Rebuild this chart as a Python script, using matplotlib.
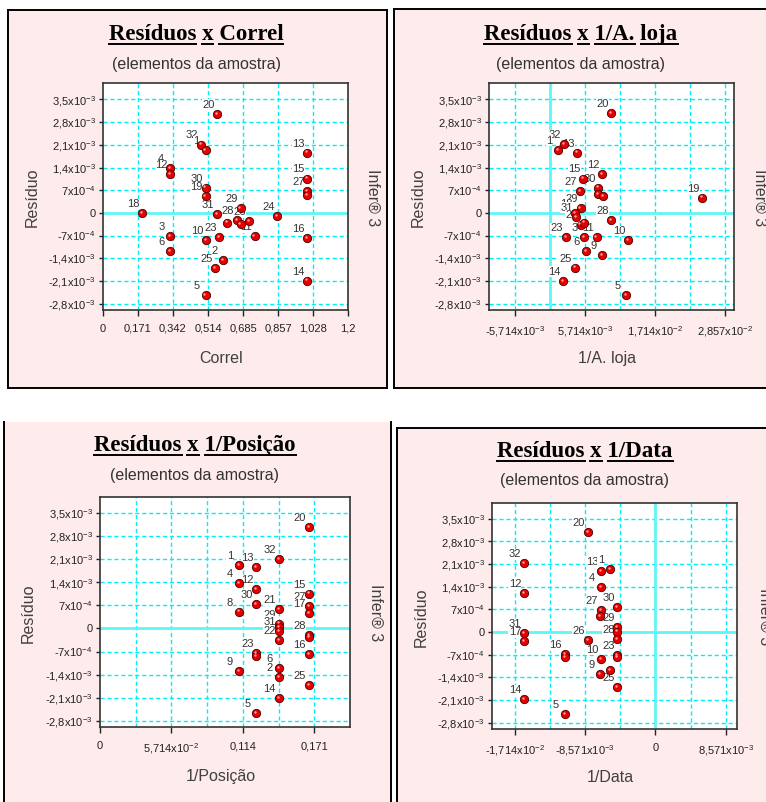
import numpy as np
import matplotlib
matplotlib.use('Agg')
import matplotlib.pyplot as plt
from matplotlib.patches import Rectangle
from matplotlib.lines import Line2D
from matplotlib.transforms import offset_copy

# ---- dados (resíduos em unidades de 1e-3) ----
corr_x = [0.560, 0.480, 0.503, 0.330, 0.330, 1.0, 1.0, 1.0, 1.0, 0.503, 0.503, 0.194,
          0.560, 0.674, 0.657, 0.714, 0.606, 0.674, 0.742, 0.853, 0.330, 0.330, 0.504,
          0.570, 0.589, 0.550, 0.503, 1.0, 1.0]
corr_res = [3.06, 2.11, 1.93, 1.37, 1.19, 1.86, 1.06, 0.67, 0.56, 0.78, 0.52, -0.02,
            -0.05, 0.14, -0.22, -0.26, -0.30, -0.35, -0.73, -0.10, -0.72, -1.19, -0.84,
            -0.76, -1.46, -1.71, -2.54, -0.79, -2.09]
corr_lbl = ['20', '32', '1', '4', '12', '13', '15', '27', '', '30', '19', '18',
            '31', '29', '28', '26', '', '', '11', '24', '3', '6', '10',
            '23', '2', '25', '5', '16', '14']

loja_x = [9.99, 2.28, 1.30, 4.45, 8.52, 5.43, 4.89, 7.87, 7.82, 8.68, 5.00, 4.07,
          4.19, 5.00, 5.54, 9.99, 2.56, 5.54, 7.61, 12.76, 5.82, 8.52, 4.07, 2.12,
          12.43, 24.8]
loja_res = [3.07, 2.12, 1.94, 1.86, 1.20, 1.06, 0.67, 0.78, 0.58, 0.52, 0.14, -0.02,
            -0.12, -0.36, -0.30, -0.23, -0.76, -0.74, -0.74, -0.84, -1.18, -1.31, -1.69, -2.10,
            -2.54, 0.47]
loja_lbl = ['20', '32', '1', '13', '12', '15', '27', '30', '', '', '29', '18',
            '31', '24', '', '28', '23', '3', '11', '10', '6', '9', '25', '14',
            '5', '19']

pos_x = [0.167, 0.143, 0.111, 0.125, 0.111, 0.125, 0.167, 0.125, 0.167, 0.167, 0.111,
         0.143, 0.143, 0.143, 0.143, 0.143, 0.167, 0.167, 0.167, 0.125, 0.125, 0.111,
         0.143, 0.143, 0.167, 0.143, 0.125]
pos_res = [3.07, 2.11, 1.93, 1.87, 1.37, 1.20, 1.06, 0.75, 0.68, 0.46, 0.51,
           0.58, 0.15, 0.03, -0.07, -0.36, -0.20, -0.26, -0.78, -0.74, -0.84, -1.30,
           -1.20, -1.47, -1.73, -2.11, -2.57]
pos_lbl = ['20', '32', '1', '13', '4', '12', '15', '30', '27', '17', '8',
           '21', '29', '', '31', '22', '28', '', '16', '23', '', '9',
           '6', '2', '25', '14', '5']

data_x = [-8.24, -16.07, -6.66, -5.56, -6.66, -16.07, -4.66, -6.66, -6.73, -4.66,
          -16.07, -16.07, -4.66, -4.66, -8.24, -11.08, -11.08, -4.66, -4.66, -6.66,
          -5.56, -6.73, -4.66, -16.07, -11.08]
data_res = [3.08, 2.12, 1.89, 1.95, 1.39, 1.20, 0.77, 0.68, 0.49, 0.15,
            -0.04, -0.29, 0.01, -0.22, -0.25, -0.69, -0.78, -0.71, -0.77, -0.84,
            -1.17, -1.29, -1.70, -2.07, -2.53]
data_lbl = ['20', '32', '13', '1', '4', '12', '30', '27', '', '29',
            '31', '17', '', '28', '26', '16', '', '23', '', '10',
            '6', '9', '25', '14', '5']

res_ticks = [-2.8e-3, -2.1e-3, -1.4e-3, -7e-4, 0, 7e-4, 1.4e-3, 2.1e-3, 2.8e-3, 3.5e-3]
res_tick_lbl = ['-2,8x10$^{-3}$', '-2,1x10$^{-3}$', '-1,4x10$^{-3}$', '-7x10$^{-4}$', '0',
                '7x10$^{-4}$', '1,4x10$^{-3}$', '2,1x10$^{-3}$', '2,8x10$^{-3}$', '3,5x10$^{-3}$']

corr_ticks = [0, 1.2/7, 2.4/7, 3.6/7, 4.8/7, 6/7, 7.2/7, 1.2]
corr_tick_lbl = ['0', '0,171', '0,342', '0,514', '0,685', '0,857', '1,028', '1,2']
loja_ticks = [-0.04/7, 0.04/7, 0.12/7, 0.2/7]
loja_tick_lbl = ['-5,714x10$^{-3}$', '5,714x10$^{-3}$', '1,714x10$^{-2}$', '2,857x10$^{-2}$']
loja_grid = [-0.04/7, 0.04/7, 0.08/7, 0.12/7, 0.16/7, 0.2/7]
pos_ticks = [0, 0.4/7, 0.8/7, 1.2/7]
pos_tick_lbl = ['0', '5,714x10$^{-2}$', '0,114', '0,171']
pos_grid = [0.2/7, 0.4/7, 0.6/7, 0.8/7, 1.0/7, 1.2/7]
data_ticks = [-0.12/7, -0.06/7, 0, 0.06/7]
data_tick_lbl = ['-1,714x10$^{-2}$', '-8,571x10$^{-3}$', '0', '8,571x10$^{-3}$']
data_grid = [-0.12/7, -0.09/7, -0.06/7, -0.03/7, 0.03/7, 0.06/7]

W, H = 766, 802
plt.rcParams['font.family'] = 'Liberation Sans'
plt.rcParams['mathtext.fontset'] = 'custom'
plt.rcParams['mathtext.rm'] = 'Liberation Sans'
plt.rcParams['mathtext.default'] = 'regular'

fig = plt.figure(figsize=(W / 100, H / 100), dpi=100)
fig.patch.set_facecolor('white')

PINK = '#fdeceb'
CYAN = '#00f0f8'


def fx(px):
    return px / W


def fy(py):
    return 1 - py / H


def panel_bg(x0, y0, x1, y1, sides):
    fig.patches.append(Rectangle((fx(x0), fy(y1)), (x1 - x0) / W, (y1 - y0) / H,
                                 transform=fig.transFigure, facecolor=PINK,
                                 edgecolor='none', zorder=-5))
    segs = {'l': ([x0, x0], [y0, y1]), 'r': ([x1, x1], [y0, y1]),
            't': ([x0, x1], [y0, y0]), 'b': ([x0, x1], [y1, y1])}
    for s in sides:
        xs, ys = segs[s]
        fig.add_artist(Line2D([fx(v) for v in xs], [fy(v) for v in ys], color='black',
                              lw=1.4, transform=fig.transFigure, zorder=-4))


def title(cx, base_y, words):
    props = dict(fontsize=16.5, fontweight='bold', family='Liberation Serif')
    full = ' '.join(words)
    t = fig.text(fx(cx), fy(base_y), full, ha='center', va='baseline', **props)
    r = fig.canvas.get_renderer()
    bb = t.get_window_extent(r)
    tmp = fig.text(0, 0, '', **props)
    for i, w in enumerate(words):
        tmp.set_text(' '.join(words[:i + 1]))
        end = tmp.get_window_extent(r).width
        tmp.set_text(w)
        start = end - tmp.get_window_extent(r).width
        uy = base_y + 3.5
        fig.add_artist(Line2D([(bb.x0 + start) / W, (bb.x0 + end) / W], [fy(uy), fy(uy)],
                              color='black', lw=1.4, transform=fig.transFigure))
    tmp.remove()


def plot_panel(box, xlim, xt, xtl, xgrid, xs, ys, lbls, zero_v,
               cx, base_y, words, xlabel, ylab_x, xlab_y, infer_x):
    l, t, r, b = box
    ax = fig.add_axes([fx(l), fy(b), (r - l) / W, (b - t) / H])
    ax.set_zorder(2)
    ax.set_facecolor('white')
    ax.set_xlim(*xlim)
    ax.set_ylim(-3.0e-3, 4.0e-3)
    for s in ax.spines.values():
        s.set_color('#333333')
        s.set_linewidth(1.2)
    ax.set_yticks(res_ticks)
    ax.set_yticklabels(res_tick_lbl)
    ax.set_xticks(xt)
    ax.set_xticklabels(xtl)
    ax.tick_params(axis='y', direction='out', length=3, width=1, colors='#222222',
                   labelsize=8, pad=2)
    ax.tick_params(axis='x', direction='out', length=4, width=1, colors='#222222',
                   labelsize=8, pad=6)
    for yv in res_ticks:
        if yv != 0:
            ax.axhline(yv, color=CYAN, lw=1, dashes=(3, 2), zorder=1)
    for xv in xgrid:
        ax.axvline(xv, color=CYAN, lw=1, dashes=(3, 2), zorder=1)
    ax.axhline(0, color='#5ff6f6', lw=2, zorder=1.5)
    if zero_v:
        ax.axvline(0, color='#5ff6f6', lw=2, zorder=1.5)

    yy = np.array(ys) * 1e-3
    for xv, yv, lb in zip(xs, yy, lbls):
        if lb:
            ax.annotate(lb, (xv, yv), xytext=(-6.5, 6.5), textcoords='offset points',
                        ha='center', va='center', fontsize=8, color='#333333', zorder=3,
                        bbox=dict(facecolor='white', edgecolor='none', pad=0.2))
    ax.scatter(xs, yy, s=36, c='#e80000', edgecolors='#4a0000', linewidths=0.6, zorder=4)
    hl = offset_copy(ax.transData, fig=fig, x=-1.2, y=1.2, units='dots')
    ax.scatter(xs, yy, s=3, c='#ffa0a0', linewidths=0, zorder=5, transform=hl)

    mid = (t + b) / 2 + 1
    title(cx, base_y, words)
    fig.text(fx(cx), fy(base_y + 24), '(elementos da amostra)', ha='center', va='center',
             fontsize=11.5, color='#333333')
    fig.text(fx(ylab_x), fy(mid), 'Resíduo', rotation=90, ha='center',
             va='center', fontsize=11.5, color='#404040')
    fig.text(fx((l + r) / 2 - 4.5), fy(xlab_y), xlabel, ha='center', va='center',
             fontsize=11.5, color='#404040')
    fig.text(fx(infer_x), fy(mid), 'Infer® 3', rotation=-90, ha='center',
             va='center', fontsize=11.5, color='#404040')
    return ax


panel_bg(8, 10, 387, 388, 'lrtb')
panel_bg(394, 9, 780, 388, 'ltb')
panel_bg(4, 422, 390.5, 810, 'lr')
panel_bg(397, 428, 780, 810, 'lt')

plot_panel((102.7, 83.3, 348.3, 310), (0, 1.2), corr_ticks, corr_tick_lbl, corr_ticks[1:-1],
           corr_x, corr_res, corr_lbl, False, 196, 40, ['Resíduos', 'x', 'Correl'],
           'Correl', 32, 358, 372.5)
plot_panel((488.7, 83.3, 734, 310), (-0.01, 0.03), loja_ticks, loja_tick_lbl, loja_grid,
           np.array(loja_x) * 1e-3, loja_res, loja_lbl, True, 581, 40,
           ['Resíduos', 'x', '1/A.', 'loja'], '1/A. loja', 418, 358, 760)
plot_panel((100, 496.7, 350, 727.3), (0, 0.2), pos_ticks, pos_tick_lbl, pos_grid,
           pos_x, pos_res, pos_lbl, False, 195, 451.5, ['Resíduos', 'x', '1/Posição'],
           '1/Posição', 28, 777, 376)
plot_panel((491.7, 502.7, 737.3, 729), (-0.02, 0.01), data_ticks, data_tick_lbl, data_grid,
           np.array(data_x) * 1e-3, data_res, data_lbl, True, 585, 457,
           ['Resíduos', 'x', '1/Data'], '1/Data', 421, 777, 765)

fig.savefig('out.png', dpi=100, facecolor='white')
